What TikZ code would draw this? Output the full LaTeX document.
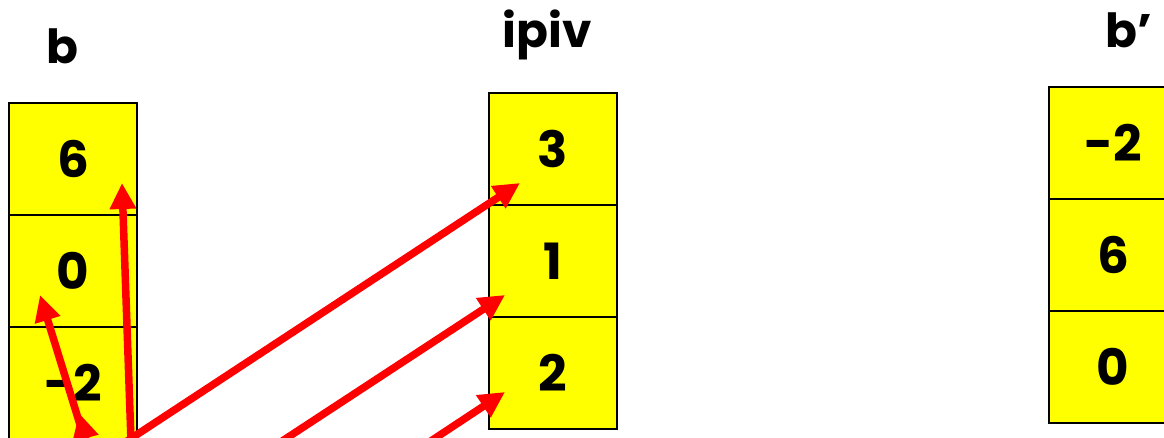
\documentclass[tikz,border=0pt]{standalone}
\usepackage{fontspec}
\setmainfont{Poppins}
\usetikzlibrary{arrows.meta}
\definecolor{cellyellow}{RGB}{255,255,0}
\definecolor{arrowred}{RGB}{255,0,0}
\begin{document}
\begin{tikzpicture}[x=1pt,y=-1pt,
  cell/.style={draw=black,line width=2.5pt,fill=cellyellow,minimum width=128pt,minimum height=112pt,inner sep=0pt,font=\fontsize{50}{60}\selectfont\bfseries},
  lbl/.style={anchor=base,inner sep=0pt,font=\fontsize{47}{56}\selectfont\bfseries},
  redarrow/.style={draw=arrowred,line width=7.5pt,-{Triangle[length=26pt,width=25pt]}}]
\useasboundingbox (0,0) rectangle (1164,437);
\clip (0,0) rectangle (1164,437);
\fill[white] (0,0) rectangle (1164,437);
% labels
\node[lbl] (lb) at (62,63) {b};
\node[lbl] (lp) at (547,47) {ipiv};
\node[lbl] (lc) at (1129,47) {b’};
% b column
\node[cell] (b1) at (73,159) {6};
\node[cell] (b2) at (73,271) {0};
\node[cell] (b3) at (73,383) {-2};
% ipiv column
\node[cell] (p1) at (553,149) {3};
\node[cell] (p2) at (553,261) {1};
\node[cell] (p3) at (553,373) {2};
% b' column
\node[cell] (c1) at (1113,143) {-2};
\node[cell] (c2) at (1113,255) {6};
\node[cell] (c3) at (1113,367) {0};
% arrow ends
\coordinate (o1) at (94,470);
\coordinate (o3) at (132,470);
\coordinate (o4) at (83,470);
\coordinate (o5) at (238,470);
\coordinate (o6) at (387,470);
\coordinate (t1) at (40,295);
\coordinate (t2) at (79,413);
\coordinate (t3) at (122,183);
\coordinate (t4) at (520,183);
\coordinate (t5) at (505,295);
\coordinate (t6) at (505,392);
\draw[redarrow] (o1) -- (t1);
\draw[redarrow] (o1) -- (t2);
\draw[redarrow] (o3) -- (t3);
\draw[redarrow] (o4) -- (t4);
\draw[redarrow] (o5) -- (t5);
\draw[redarrow] (o6) -- (t6);
\end{tikzpicture}
\end{document}
